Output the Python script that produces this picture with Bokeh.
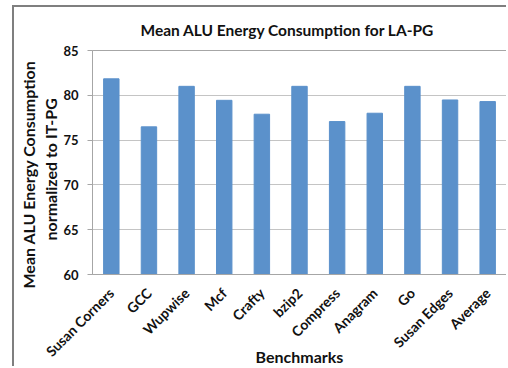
from math import pi

from bokeh.embed import file_html
from bokeh.models import FactorRange, FixedTicker, Range1d, Title
from bokeh.plotting import figure
from bokeh.resources import INLINE

# Benchmarks and their mean ALU energy (LA-PG, normalised to IT-PG, %)
benchmarks = ["Susan Corners", "GCC", "Wupwise", "Mcf", "Crafty", "bzip2",
              "Compress", "Anagram", "Go", "Susan Edges", "Average"]
energy = [81.84, 76.48, 81.0, 79.44, 77.89, 81.0, 77.07, 78.0, 81.0, 79.48, 79.3]
y_ticks = [60, 65, 70, 75, 80, 85]

FONT = "Lato"
GREY = "#a6a6a6"
INK = "#111111"

p = figure(width=494, height=361, output_backend="svg", toolbar_location=None,
           x_range=FactorRange(factors=benchmarks), y_range=Range1d(60, 85),
           min_border_left=78, min_border_right=2, min_border_top=42,
           min_border_bottom=92)
# chart-area frame drawn round the whole figure
p.styles = {"margin-left": "12px", "margin-top": "5px",
            "border-left": "2px solid #7f7f7f",
            "border-top": "2px solid #7f7f7f"}
p.background_fill_color = "white"
p.border_fill_color = "white"
p.outline_line_color = GREY
p.outline_line_width = 1

p.vbar(x=benchmarks, top=energy, bottom=60, width=0.41, color="#5b91cb",
       line_color="#5b91cb")

# title
p.title.text = "Mean ALU Energy Consumption for LA-PG"
p.title.align = "left"
p.title.offset = 48
p.title.standoff = 23
p.title.text_font = FONT
p.title.text_font_style = "bold"
p.title.text_font_size = "15.5px"
p.title.text_color = INK

# y axis
p.yaxis.ticker = FixedTicker(ticks=y_ticks)
p.yaxis.axis_line_color = GREY
p.yaxis.major_tick_line_color = GREY
p.yaxis.major_tick_out = 5
p.yaxis.major_tick_in = 0
p.yaxis.minor_tick_line_color = None
p.yaxis.major_label_standoff = 9
p.yaxis.major_label_text_font = FONT
p.yaxis.major_label_text_font_style = "bold"
p.yaxis.major_label_text_font_size = "13px"
p.yaxis.major_label_text_color = INK

# two-line y axis title, stacked outward from the axis
for line, shift in [("normalized to IT-PG", 34), ("Mean ALU Energy Consumption", -14)]:
    p.add_layout(Title(text=line, align="left", offset=shift, standoff=1,
                       text_font=FONT, text_font_style="bold",
                       text_font_size="16px", text_color=INK), "left")

# x axis
p.xaxis.axis_line_color = GREY
p.xaxis.major_tick_line_color = None
p.xaxis.minor_tick_line_color = None
p.xaxis.major_label_orientation = pi / 4
p.xaxis.major_label_standoff = 10
p.xaxis.major_label_text_font = FONT
p.xaxis.major_label_text_font_style = "bold"
p.xaxis.major_label_text_font_size = "14px"
p.xaxis.major_label_text_color = INK
p.xaxis.axis_label = "Benchmarks"
p.xaxis.axis_label_standoff = -22
p.xaxis.axis_label_text_font = FONT
p.xaxis.axis_label_text_font_style = "bold"
p.xaxis.axis_label_text_font_size = "16px"
p.xaxis.axis_label_text_color = INK

p.xgrid.grid_line_color = None
p.ygrid.grid_line_color = "#c4c4c4"
p.ygrid.ticker = FixedTicker(ticks=y_ticks)

open("out.html", "w").write(file_html(p, INLINE))
